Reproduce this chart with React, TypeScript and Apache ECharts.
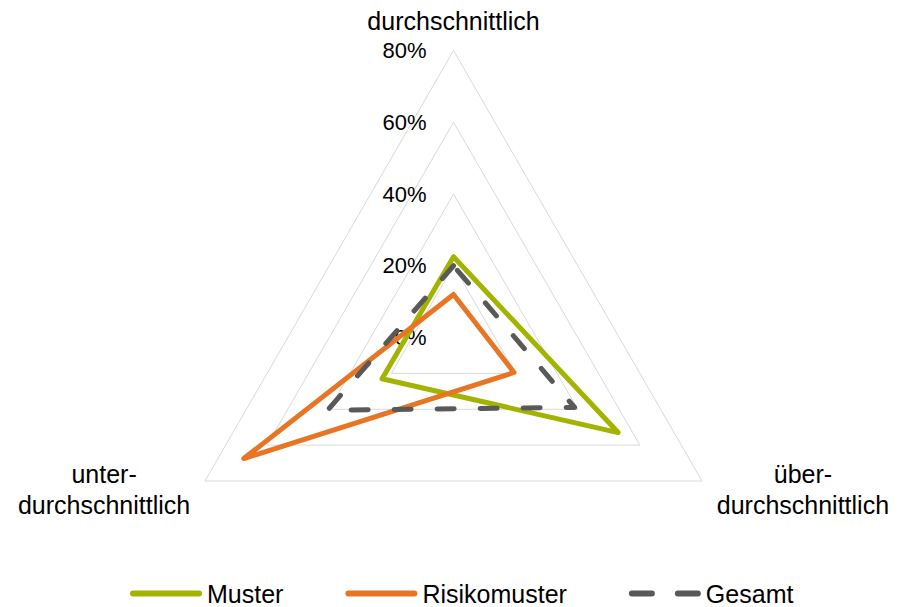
import React, { useEffect, useRef } from "react";
import * as echarts from "echarts";

const indicatorNames = ["durchschnittlich", "unter-\ndurchschnittlich", "über-\ndurchschnittlich"];
const axisMax = 80;
const axisSplits = 4;
const seriesNames = ["Muster", "Risikomuster", "Gesamt"];
const musterValues = [22.5, 23, 53];
const risikomusterValues = [12, 67.5, 19.5];
const gesamtValues = [20, 40.5, 39];

const FONT = "'Liberation Sans', Arial, sans-serif";
const GREEN = "#A2B300";
const ORANGE = "#E87524";
const GRAY = "#595959";

const solidIcon = "path://M3,0H69A3,3,0,0,1,69,6H3A3,3,0,0,1,3,0Z";
const dashIcon =
  "path://M3,0H23A3,3,0,0,1,23,6H3A3,3,0,0,1,3,0ZM49,0H69A3,3,0,0,1,69,6H49A3,3,0,0,1,49,0Z";

export default function App() {
  const ref = useRef<HTMLDivElement>(null);
  useEffect(() => {
    if (!ref.current) return;
    const chart = echarts.init(ref.current, undefined, { renderer: "svg" });
    const nameRich = {
      c: { align: "center", fontSize: 25, lineHeight: 31, color: "#000", fontFamily: FONT },
    };
    chart.setOption({
      animation: false,
      backgroundColor: "#fff",
      legend: {
        left: 130,
        top: 581,
        padding: 0,
        itemWidth: 72,
        itemHeight: 6,
        itemGap: 62,
        itemStyle: { borderWidth: 0 },
        textStyle: { fontSize: 25, color: "#000", fontFamily: FONT },
        data: [
          { name: seriesNames[0], icon: solidIcon, itemStyle: { color: GREEN } },
          { name: seriesNames[1], icon: solidIcon, itemStyle: { color: ORANGE } },
          { name: seriesNames[2], icon: dashIcon, itemStyle: { color: GRAY } },
        ],
      },
      radar: {
        center: [453.5, 337.5],
        radius: 287,
        shape: "polygon",
        splitNumber: axisSplits,
        nameGap: 17,
        axisName: {
          color: "#000",
          fontSize: 25,
          fontFamily: FONT,
          formatter: (name: string) =>
            name
              .split("\n")
              .map((s) => `{c|${s}}`)
              .join("\n"),
          rich: nameRich,
        },
        axisLine: { show: false },
        axisTick: { show: false },
        splitArea: { show: false },
        splitLine: { lineStyle: { color: "#d9d9d9", width: 1 } },
        axisLabel: { show: false },
        indicator: indicatorNames.map((n, i) => ({
          name: n,
          min: 0,
          max: axisMax,
          ...(i === 0
            ? {
                nameGap: 14,
                axisLabel: {
                  show: true,
                  margin: 27,
                  formatter: "{value}%",
                  fontSize: 22,
                  color: "#000",
                  fontFamily: FONT,
                },
              }
            : {}),
        })),
      },
      series: [
        {
          type: "radar",
          symbol: "none",
          data: [
            {
              name: seriesNames[0],
              value: musterValues,
              itemStyle: { color: GREEN },
              lineStyle: { color: GREEN, width: 5, cap: "round", join: "round" },
            },
            {
              name: seriesNames[1],
              value: risikomusterValues,
              itemStyle: { color: ORANGE },
              lineStyle: { color: ORANGE, width: 5, cap: "round", join: "round" },
            },
            {
              name: seriesNames[2],
              value: gesamtValues,
              itemStyle: { color: GRAY },
              lineStyle: { color: GRAY, width: 5, type: [17, 26], cap: "round", join: "round" },
            },
          ],
        },
      ],
    });
    return () => chart.dispose();
  }, []);
  return (
    <div
      ref={ref}
      style={{ position: "absolute", left: 0, top: 0, width: 899, height: 607 }}
    />
  );
}
